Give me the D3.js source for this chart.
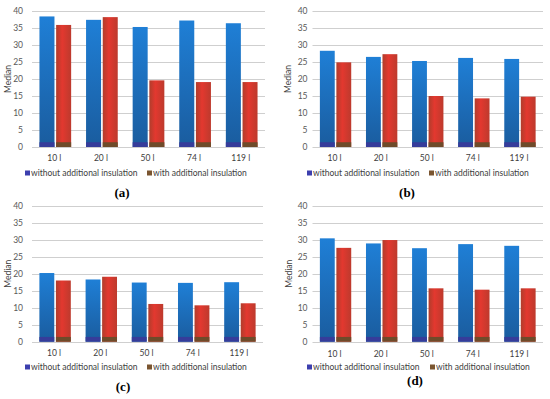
<!DOCTYPE html>
<html lang="en">
	<head>
		<meta charset="utf-8">
		<title>Median by tank volume</title>
		<script type="text/javascript" src="https://cdn.jsdelivr.net/npm/d3@7"></script>
		<style type="text/css">
			body { margin: 0; background: #fff; }
			text { font-family: Lato, "Open Sans", sans-serif; }
			text.plabel { font-family: "Liberation Serif", "DejaVu Serif", serif; }
		</style>
	</head>
	<body>
		<script type="text/javascript">
			//Data
			var categories = ["10 l", "20 l", "50 l", "74 l", "119 l"];
			var seriesNames = ["without additional insulation", "with additional insulation"];
			var yTicks = [0, 5, 10, 15, 20, 25, 30, 35, 40];

			var withoutA = [38.4, 37.4, 35.3, 37.2, 36.4];
			var withA    = [35.9, 38.2, 19.6, 19.1, 19.1];
			var withoutB = [28.3, 26.5, 25.3, 26.2, 25.9];
			var withB    = [24.9, 27.3, 15.0, 14.3, 14.8];
			var withoutC = [20.2, 18.3, 17.4, 17.3, 17.5];
			var withC    = [18.0, 19.1, 11.1, 10.7, 11.3];
			var withoutD = [30.4, 28.9, 27.5, 28.7, 28.2];
			var withD    = [27.6, 29.9, 15.7, 15.3, 15.7];

			//Width and height
			var w = 550;
			var h = 399;

			var svg = d3.select("body")
						.append("svg")
						.attr("width", w)
						.attr("height", h);

			//Gradients for the bars
			var defs = svg.append("defs");
			var gBlue = defs.append("linearGradient")
				.attr("id", "gBlue")
				.attr("x1", 0).attr("y1", 0).attr("x2", 0).attr("y2", 1);
			gBlue.append("stop").attr("offset", "0%").attr("stop-color", "#1f7fd6");
			gBlue.append("stop").attr("offset", "100%").attr("stop-color", "#1a5c9e");
			var gRed = defs.append("linearGradient")
				.attr("id", "gRed")
				.attr("x1", 0).attr("y1", 0).attr("x2", 1).attr("y2", 0);
			gRed.append("stop").attr("offset", "0%").attr("stop-color", "#b03d2c");
			gRed.append("stop").attr("offset", "40%").attr("stop-color", "#e3382f");
			gRed.append("stop").attr("offset", "100%").attr("stop-color", "#bd3a2d");

			var fills = ["url(#gBlue)", "url(#gRed)"];
			var baseColors = ["#363c9a", "#6e4b2a"];
			var legendColors = ["#3c3fae", "#7a5530"];

			var panels = [
				{ label: "(a)", a: withoutA, b: withA, x0: 32, x1: 265, y0: 11, y1: 147, tickGap: 9, medianX: 8, catY: 161, legY: 173, legX: [25, 147], labX: 122, labY: 197 },
				{ label: "(b)", a: withoutB, b: withB, x0: 312.5, x1: 543, y0: 11, y1: 147, tickGap: 5, medianX: 288, catY: 161, legY: 173, legX: [307, 429], labX: 407, labY: 197 },
				{ label: "(c)", a: withoutC, b: withC, x0: 32, x1: 263, y0: 205.7, y1: 341.7, tickGap: 9, medianX: 8, catY: 356, legY: 367, legX: [25, 147], labX: 123, labY: 391 },
				{ label: "(d)", a: withoutD, b: withD, x0: 312.5, x1: 543, y0: 205.7, y1: 341.7, tickGap: 5, medianX: 289, catY: 357, legY: 367, legX: [307, 430], labX: 415, labY: 385 }
			];

			panels.forEach(function(p) {
				var g = svg.append("g");

				var xScale = d3.scaleBand()
								.domain(categories)
								.range([p.x0, p.x1])
								.paddingInner(0.32)
								.paddingOuter(0.16);
				var xSub = d3.scaleBand()
								.domain([0, 1])
								.range([0, xScale.bandwidth()])
								.paddingInner(0.1);
				var yScale = d3.scaleLinear()
								.domain([0, 40])
								.range([p.y1, p.y0]);

				//Gridlines
				g.selectAll("line.grid")
				 .data(yTicks)
				 .enter()
				 .append("line")
				 .attr("class", "grid")
				 .attr("x1", p.x0)
				 .attr("x2", p.x1)
				 .attr("y1", function(d) { return Math.round(yScale(d)) + 0.5; })
				 .attr("y2", function(d) { return Math.round(yScale(d)) + 0.5; })
				 .attr("stroke", "#cfcfcf")
				 .attr("stroke-width", 1);

				//Y tick labels
				g.selectAll("text.ytick")
				 .data(yTicks)
				 .enter()
				 .append("text")
				 .attr("class", "ytick")
				 .attr("x", p.x0 - p.tickGap)
				 .attr("y", function(d) { return yScale(d) + 3; })
				 .attr("text-anchor", "end")
				 .attr("font-size", "8.5px")
				 .attr("fill", "#595959")
				 .text(function(d) { return d; });

				//Axis title
				g.append("text")
				 .attr("transform", "translate(" + (p.medianX + 3) + "," + ((p.y0 + p.y1) / 2) + ") rotate(-90)")
				 .attr("text-anchor", "middle")
				 .attr("font-size", "8.5px")
				 .attr("fill", "#404040")
				 .text("Median");

				//Bars
				var rows = categories.map(function(c, i) {
					return [{ c: c, s: 0, v: p.a[i] }, { c: c, s: 1, v: p.b[i] }];
				});
				var bars = g.selectAll("g.cat")
				 .data(rows)
				 .enter()
				 .append("g")
				 .attr("class", "cat")
				 .selectAll("g.bar")
				 .data(function(d) { return d; })
				 .enter()
				 .append("g")
				 .attr("class", "bar");

				bars.append("rect")
				 .attr("x", function(d) { return xScale(d.c) + xSub(d.s); })
				 .attr("y", function(d) { return yScale(d.v); })
				 .attr("width", xSub.bandwidth())
				 .attr("height", function(d) { return yScale(0) - yScale(d.v); })
				 .attr("fill", function(d) { return fills[d.s]; });

				//Darker base of each bar
				bars.append("rect")
				 .attr("x", function(d) { return xScale(d.c) + xSub(d.s); })
				 .attr("y", yScale(1.4))
				 .attr("width", xSub.bandwidth())
				 .attr("height", yScale(0) - yScale(1.4))
				 .attr("fill", function(d) { return baseColors[d.s]; });

				//Category labels
				g.selectAll("text.cat")
				 .data(categories)
				 .enter()
				 .append("text")
				 .attr("class", "cat")
				 .attr("x", function(d) { return xScale(d) + xScale.bandwidth() / 2 - 1; })
				 .attr("y", p.catY)
				 .attr("text-anchor", "middle")
				 .attr("font-size", "8.5px")
				 .attr("fill", "#404040")
				 .text(function(d) { return d; });

				//Legend
				var leg = g.selectAll("g.leg")
				 .data(seriesNames)
				 .enter()
				 .append("g")
				 .attr("class", "leg")
				 .attr("transform", function(d, i) { return "translate(" + p.legX[i] + "," + p.legY + ")"; });
				leg.append("rect")
				 .attr("x", 0)
				 .attr("y", -2.5)
				 .attr("width", 5)
				 .attr("height", 5)
				 .attr("fill", function(d, i) { return legendColors[i]; });
				leg.append("text")
				 .attr("x", 6)
				 .attr("y", 3)
				 .attr("font-size", "8.5px")
				 .attr("fill", "#404040")
				 .text(function(d) { return d; });

				//Panel label
				g.append("text")
				 .attr("class", "plabel")
				 .attr("x", p.labX)
				 .attr("y", p.labY)
				 .attr("text-anchor", "middle")
				 .attr("font-weight", "bold")
				 .attr("font-size", "13px")
				 .attr("fill", "#000")
				 .text(p.label);
			});
		</script>
	</body>
</html>
